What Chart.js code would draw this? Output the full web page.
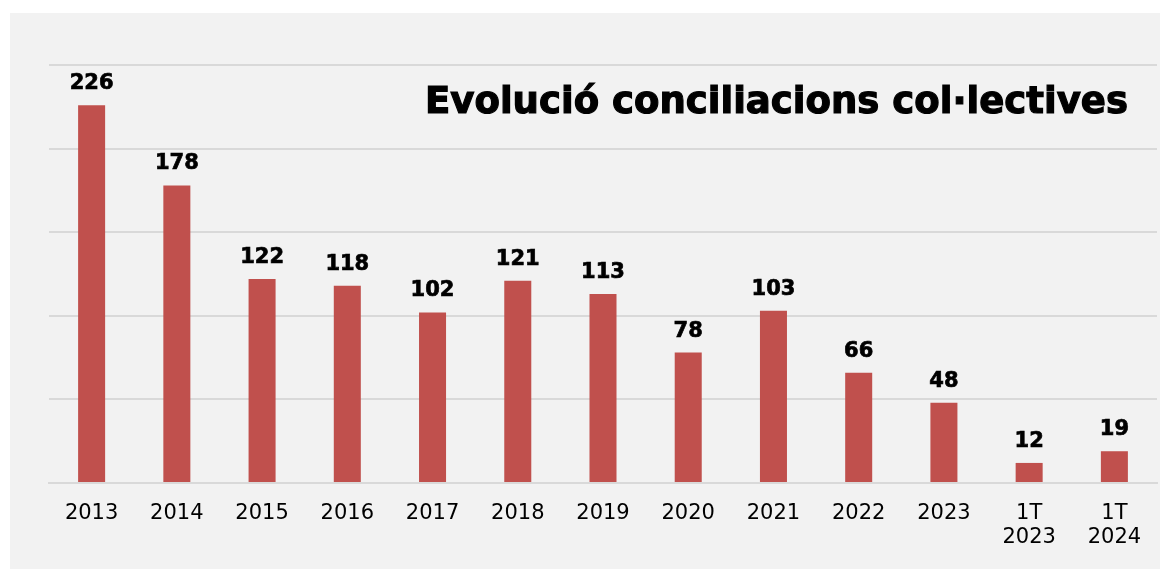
<!DOCTYPE html>
<html lang="ca">
<head>
<meta charset="UTF-8">
<title>Evolució conciliacions col·lectives</title>
<script src="https://cdn.jsdelivr.net/npm/chart.js"></script>
<style>
  html, body { margin: 0; padding: 0; background: #ffffff; }
  #wrap { position: absolute; left: 10px; top: 13px; width: 1150px; height: 556px; background: #f2f2f2; }
</style>
</head>
<body>
<div id="wrap"><canvas id="chart"></canvas></div>
<script>
const categories = ['2013', '2014', '2015', '2016', '2017', '2018', '2019', '2020', '2021', '2022', '2023', ['1T', '2023'], ['1T', '2024']];
const conciliacions = [226, 178, 122, 118, 102, 121, 113, 78, 103, 66, 48, 12, 19];
const titleText = 'Evolució conciliacions col·lectives';

// valors damunt de cada barra
const valueLabels = {
  id: 'valueLabels',
  afterDatasetsDraw(chart) {
    const ctx = chart.ctx;
    const meta = chart.getDatasetMeta(0);
    ctx.save();
    ctx.font = 'bold 21px "DejaVu Sans"';
    ctx.fillStyle = '#000000';
    ctx.strokeStyle = '#000000';
    ctx.lineWidth = 0.7;
    ctx.textAlign = 'center';
    ctx.textBaseline = 'alphabetic';
    meta.data.forEach((bar, i) => {
      const txt = String(conciliacions[i]);
      ctx.fillText(txt, bar.x, bar.y - 16);
      ctx.strokeText(txt, bar.x, bar.y - 16);
    });
    ctx.restore();
  }
};

// títol dins l'àrea del gràfic, alineat a la dreta (comprimit en horitzontal)
const innerTitle = {
  id: 'innerTitle',
  afterDraw(chart) {
    const ctx = chart.ctx;
    ctx.save();
    ctx.font = 'bold 38px "DejaVu Sans"';
    ctx.fillStyle = '#000000';
    ctx.strokeStyle = '#000000';
    ctx.lineWidth = 1.2;
    const w = ctx.measureText(titleText).width;
    const target = 703;
    const right = 1118;
    ctx.translate(right - target, 100);
    ctx.scale(target / w, 1);
    ctx.textBaseline = 'alphabetic';
    ctx.fillText(titleText, 0, 0);
    ctx.strokeText(titleText, 0, 0);
    ctx.restore();
  }
};

new Chart(document.getElementById('chart'), {
  type: 'bar',
  data: {
    labels: categories,
    datasets: [{
      data: conciliacions,
      backgroundColor: '#c0504d',
      borderWidth: 0,
      categoryPercentage: 1,
      barPercentage: 0.317
    }]
  },
  options: {
    responsive: true,
    maintainAspectRatio: false,
    animation: false,
    layout: { padding: { left: 39, right: 3, top: 52, bottom: 0 } },
    plugins: {
      legend: { display: false },
      tooltip: { enabled: false },
      title: { display: false }
    },
    scales: {
      x: {
        afterFit(scale) { scale.height = 86; },
        grid: { display: false, drawTicks: false },
        border: { color: '#d9d9d9', width: 2 },
        ticks: {
          color: '#000000',
          font: { family: '"DejaVu Sans"', size: 21, lineHeight: 1.15 },
          padding: 18,
          maxRotation: 0
        }
      },
      y: {
        min: 0,
        max: 250,
        ticks: { display: false, stepSize: 50 },
        grid: { color: '#d9d9d9', lineWidth: 2, drawTicks: false },
        border: { display: false }
      }
    }
  },
  plugins: [valueLabels, innerTitle]
});
</script>
</body>
</html>
